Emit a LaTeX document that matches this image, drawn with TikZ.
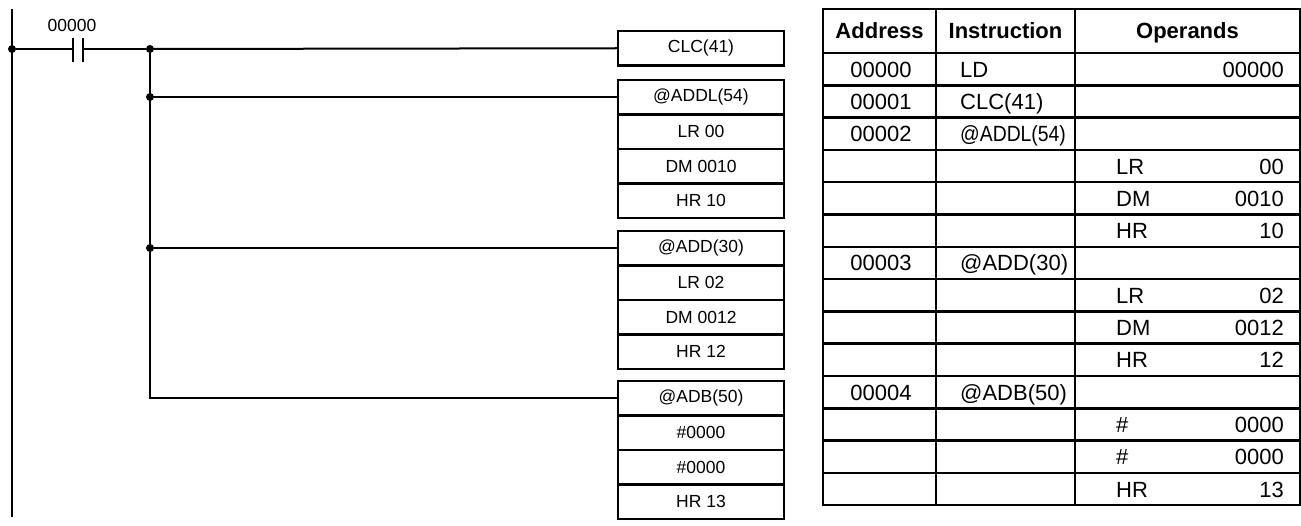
\documentclass[tikz,border=0pt]{standalone}
\usepackage{fontspec}
\setmainfont{Liberation Sans}
\usepackage{tikz}
\usetikzlibrary{positioning}
\newcommand{\boxfont}{\fontsize{17.5}{19}\selectfont}
\newcommand{\tabfont}{\fontsize{22}{24}\selectfont}
\newcommand{\narrow}[1]{{\addfontfeature{FakeStretch=0.88}#1}}
\begin{document}
\begin{tikzpicture}[x=1pt, y=-1pt,
  wire/.style={line width=2pt},
  cell/.style={draw, line width=2.5pt, minimum width=166pt, minimum height=34.5pt, inner sep=0pt, outer sep=0pt, font=\boxfont},
  jdot/.style={circle, fill, inner sep=0pt, minimum size=8pt},
  grid/.style={line width=2.5pt},
  entry/.style={font=\tabfont, inner sep=0pt, anchor=base}]
\useasboundingbox (0,0) rectangle (1301,526);
\newcommand{\rowH}{32.3}%
\newcommand{\tabTop}{53}%
% ladder rail and contact
\draw[wire] (12,9) -- (12,517);
\node[jdot] (d0) at (12,49) {};
\coordinate (cA) at (73,49);
\coordinate (cB) at (83,49);
\node[font=\boxfont] (clab) at (72,25) {00000};
\node[jdot] (b1) at (150,49) {};
\node[jdot] (b2) at (150,97) {};
\node[jdot] (b3) at (150,248) {};
\draw[wire] (d0) -- (cA);
\draw[wire] (cA) ++(0,-11) -- +(0,24);
\draw[wire] (cB) ++(0,-11) -- +(0,24);
\draw[wire] (cB) -- (b1);
% instruction blocks
\node[cell, anchor=north west] (clc) at (618,31) {CLC(41)};
\node[cell, anchor=north west] (addl) at (618,80) {@ADDL(54)};
\node[cell, below=0pt of addl] (addlA) {LR 00};
\node[cell, below=0pt of addlA] (addlB) {DM 0010};
\node[cell, below=0pt of addlB] (addlC) {HR 10};
\node[cell, anchor=north west] (add) at (618,231) {@ADD(30)};
\node[cell, below=0pt of add] (addA) {LR 02};
\node[cell, below=0pt of addA] (addB) {DM 0012};
\node[cell, below=0pt of addB] (addC) {HR 12};
\node[cell, anchor=north west] (adb) at (618,381) {@ADB(50)};
\node[cell, below=0pt of adb] (adbA) {\#0000};
\node[cell, below=0pt of adbA] (adbB) {\#0000};
\node[cell, below=0pt of adbB] (adbC) {HR 13};
\coordinate (b4) at (b1 |- adb.west);
\draw[wire] (b1) -- (clc.west);
\draw[wire] (b2) -- (b2 -| addl.west);
\draw[wire] (b3) -- (b3 -| add.west);
\draw[wire] (b1) -- (b4) -- (adb.west);
% mnemonic table
\draw[grid] (823,9) rectangle (1300,{\tabTop+14*\rowH});
\foreach \x in {936,1075}
  \draw[grid] (\x,9) -- (\x,{\tabTop+14*\rowH});
\foreach \k in {0,...,13}
  \draw[grid] (823,{\tabTop+\k*\rowH}) -- (1300,{\tabTop+\k*\rowH});
\node[entry, font=\tabfont\bfseries] (hAddr) at (879.5,39) {Address};
\node[entry, font=\tabfont\bfseries] (hInstr) at (1005.5,39) {Instruction};
\node[entry, font=\tabfont\bfseries] (hOper) at (1187.5,39) {Operands};
\foreach \r/\ad/\ins/\opa/\opb in {
  1/00000/LD//00000, 2/00001/CLC(41)//, 3/00002/\narrow{@ADDL(54)}//,
  4///LR/00, 5///DM/0010, 6///HR/10,
  7/00003/@ADD(30)//, 8///LR/02, 9///DM/0012, 10///HR/12,
  11/00004/@ADB(50)//, 12///\#/0000, 13///\#/0000, 14///HR/13} {
  \node[entry] (ad\r) at (881,{\tabTop+(\r-0.5)*\rowH+8}) {\ad};
  \node[entry, anchor=base west] (in\r) at (960,{\tabTop+(\r-0.5)*\rowH+8}) {\ins};
  \node[entry, anchor=base west] (oa\r) at (1116,{\tabTop+(\r-0.5)*\rowH+8}) {\opa};
  \node[entry, anchor=base east] (ob\r) at (1284,{\tabTop+(\r-0.5)*\rowH+8}) {\opb};
}
\end{tikzpicture}
\end{document}
